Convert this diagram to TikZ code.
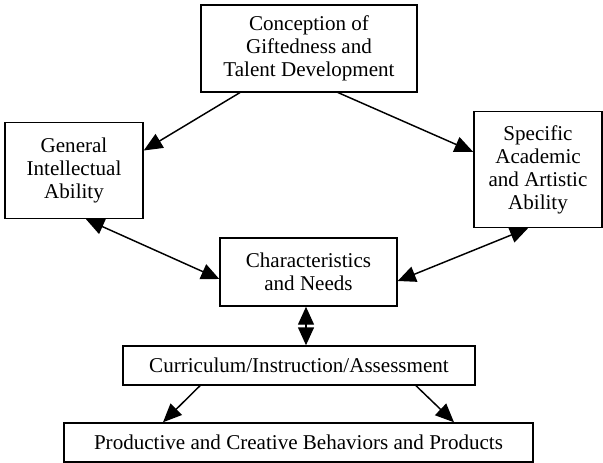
\documentclass[tikz,border=0pt]{standalone}
\usepackage{fontspec}
\setmainfont{Liberation Serif}
\usepackage{tikz}
\usetikzlibrary{arrows.meta,calc}
\tikzset{every picture/.style={line width=0.7pt}}
\tikzset{
  blk/.style={draw,line width=1.1pt,align=center,inner sep=0pt,font=\fontsize{15.8}{17.3}\selectfont},
  arr/.style={line width=1.1pt,-{Triangle[length=14pt,width=12pt]}},
  darr/.style={line width=1.1pt,{Triangle[length=13.5pt,width=12pt]}-{Triangle[length=13.5pt,width=12pt]}}
}

\begin{document}
\begin{tikzpicture}[x=0.75pt,y=0.75pt,yscale=-1,xscale=1]
\useasboundingbox (0,0) rectangle (603,463);

% Text Node
\node [blk,minimum width=162pt,minimum height=65pt] (concept) at (309,48.5) {Conception of\\Giftedness and\\Talent Development};
% Text Node
\node [blk,minimum width=103.5pt,minimum height=72pt] (general) at (74,170.5) {General\\Intellectual\\Ability};
% Text Node
\node [blk,minimum width=96pt,minimum height=87pt] (specific) at (538,169.5) {Specific\\Academic\\and Artistic\\Ability};
% Text Node
\node [blk,minimum width=132.75pt,minimum height=51pt] (needs) at (308.5,272) {Characteristics\\and Needs};
% Text Node
\node [blk,minimum width=264pt,minimum height=29.25pt] (curric) at (299,365.5) {Curriculum/Instruction/Assessment};
% Text Node
\node [blk,minimum width=351.75pt,minimum height=29.25pt] (products) at (298.5,442.5) {Productive and Creative Behaviors and Products};

\coordinate (vlink) at ($(needs.south)+(-2.5,0)$);

%Straight Lines
\draw [arr] ($(concept.south)+(-69,0)$) -- ($(general.east)+(0,-20)$) ;
\draw [arr] ($(concept.south)+(29,0)$) -- ($(specific.west)+(0,-17.5)$) ;
\draw [darr] ($(general.south)+(12,0)$) -- ($(needs.west)+(0,7)$) ;
\draw [darr] ($(specific.south)+(-10,0)$) -- ($(needs.east)+(0,9)$) ;
\draw [darr] (vlink) -- (vlink |- curric.north) ;
\draw [arr] ($(curric.south)+(-99,0)$) -- ($(products.north)+(-135.5,0)$) ;
\draw [arr] ($(curric.south)+(117,0)$) -- ($(products.north)+(155.5,0)$) ;

\end{tikzpicture}
\end{document}
